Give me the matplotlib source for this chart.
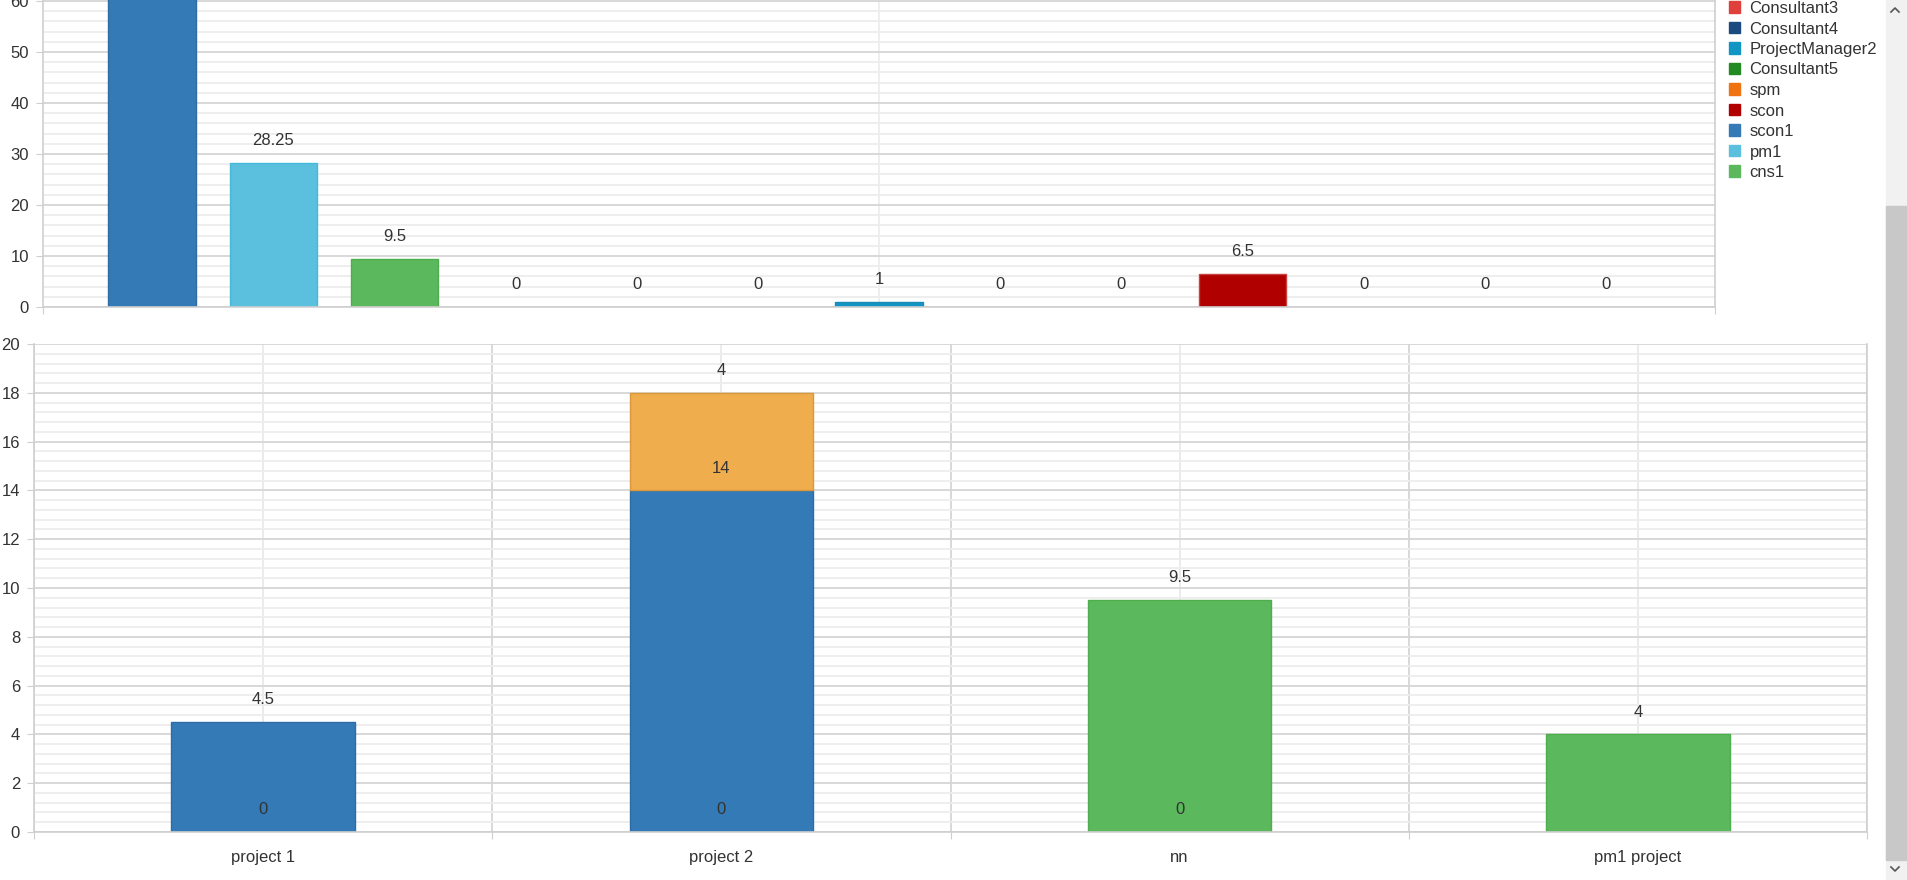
import numpy as np
import matplotlib.pyplot as plt
from matplotlib.patches import Patch, Rectangle
from matplotlib.lines import Line2D

# top chart: hours per person (category names are scrolled out of view)
top_values = [66, 28.25, 9.5, 0, 0, 0, 1, 0, 0, 6.5, 0, 0, 0]
top_colors = ['#337ab7', '#5bc0de', '#5cb85c', '#e0403c', '#1a4a80', '#238a23',
              '#1196c4', '#f07312', '#e0403c', '#b00000', '#1a4a80', '#238a23', '#f07312']
top_edges = ['#2e6da4', '#46b8da', '#4cae4c', '#e0403c', '#1a4a80', '#238a23',
             '#1b8ab4', '#f07312', '#e0403c', '#c84040', '#1a4a80', '#238a23', '#f07312']

# legend entries visible in the screenshot
legend_names = ['Consultant3', 'Consultant4', 'ProjectManager2', 'Consultant5',
                'spm', 'scon', 'scon1', 'pm1', 'cns1']
legend_colors = ['#e0403c', '#1a4a80', '#1196c4', '#238a23',
                 '#f07312', '#b00000', '#337ab7', '#5bc0de', '#5cb85c']

# bottom chart: hours per project, stacked
projects = ['project 1', 'project 2', 'nn', 'pm1 project']
zero_hours = [0, 0, 0, None]
scon1_hours = [4.5, 14, None, None]
spm_hours = [None, 4, None, None]
cns1_hours = [None, None, 9.5, 4]
bottom_series = [
    (zero_hours, '#337ab7', '#2e6da4'),
    (scon1_hours, '#337ab7', '#2e6da4'),
    (spm_hours, '#f0ad4e', '#d9983a'),
    (cns1_hours, '#5cb85c', '#4cae4c'),
]

plt.rcParams['font.family'] = ['Liberation Sans', 'DejaVu Sans']
plt.rcParams['font.size'] = 12
TXT = '#333333'
GRID = '#d6d6d6'
MINOR = '#ededed'

W, H = 1907, 880
fig = plt.figure(figsize=(W / 100, H / 100), dpi=100)


def add_px_axes(left, right, zero_y, top_y):
    return fig.add_axes([left / W, 1 - zero_y / H, (right - left) / W, (zero_y - top_y) / H])


def style(ax):
    ax.set_axisbelow(True)
    ax.spines['top'].set_visible(False)
    for s in ['left', 'right', 'bottom']:
        ax.spines[s].set_color('#cfcfcf')
        ax.spines[s].set_linewidth(1.2)
    ax.tick_params(axis='y', which='major', length=5, color='#cfcfcf', labelcolor=TXT, pad=5)
    ax.tick_params(axis='y', which='minor', length=0)
    ax.yaxis.grid(True, which='major', color=GRID, lw=1.3)
    ax.yaxis.grid(True, which='minor', color=MINOR, lw=1.3)


def label(ax, x, y, v):
    ax.annotate(f'{v:g}', (x, y), xytext=(0, 16), textcoords='offset points',
                ha='center', va='center', color=TXT, annotation_clip=False, zorder=5)


# ---- top chart
ax1 = add_px_axes(43, 1715, 307, -50)
style(ax1)
n = len(top_values)
xt = np.arange(n)
ax1.set_xlim(-0.9, n - 0.1)
ax1.set_ylim(0, 70)
ax1.set_yticks(np.arange(0, 71, 10))
ax1.set_yticks(np.arange(0, 71, 2), minor=True)
ax1.set_xticks([-0.9, n - 0.1], ['', ''])
ax1.tick_params(axis='x', length=5, color='#cfcfcf')
ax1.axvline((n - 1) / 2, color='#ebebeb', lw=1.2, zorder=0)
ax1.bar(xt, top_values, width=0.72, color=top_colors, edgecolor=top_edges,
        linewidth=[1 if v else 0 for v in top_values], zorder=2)
for x, v in zip(xt, top_values):
    label(ax1, x, v, v)

# ---- bottom chart
ax2 = add_px_axes(34, 1867, 832, 344)
style(ax2)
xb = np.arange(len(projects))
ax2.set_xlim(-0.5, len(projects) - 0.5)
ax2.set_ylim(0, 20)
ax2.set_yticks(np.arange(0, 21, 2))
ax2.set_yticks(np.arange(0, 20.01, 0.4), minor=True)
ax2.set_xticks(np.arange(-0.5, len(projects)), [''] * (len(projects) + 1))
ax2.set_xticks(xb, projects, minor=True)
ax2.tick_params(axis='x', which='major', length=5, color='#cfcfcf')
ax2.tick_params(axis='x', which='minor', length=0, pad=13, labelcolor=TXT)
ax2.xaxis.grid(True, which='major', color=GRID, lw=1.3)
ax2.xaxis.grid(True, which='minor', color='#e8e8e8', lw=1.2)

base = np.zeros(len(projects))
for values, color, edge in bottom_series:
    for i, v in enumerate(values):
        if v is None:
            continue
        if v > 0:
            ax2.bar(i, v, bottom=base[i], width=0.4, color=color, edgecolor=edge, lw=1, zorder=2)
        label(ax2, i, base[i] + v, v)
        base[i] += v

# ---- legend
handles = [Patch(facecolor=c, edgecolor=c) for c in legend_colors]
fig.legend(handles, legend_names, loc='upper left', bbox_to_anchor=(1729 / W, 1 - 1 / H),
           frameon=False, borderpad=0, borderaxespad=0, labelspacing=0.33,
           handlelength=0.68, handleheight=0.68, handletextpad=0.55, labelcolor=TXT)

# ---- browser scrollbar
fig.add_artist(Rectangle((1886 / W, 0), 21 / W, 1, transform=fig.transFigure,
                         color='#f1f1f1', zorder=0))
fig.add_artist(Rectangle((1886 / W, 20 / H), 20 / W, 654 / H, transform=fig.transFigure,
                         color='#c8c8c8', zorder=1))
for ys in [(12, 8, 12), (867, 871, 867)]:
    fig.add_artist(Line2D([1891 / W, 1895 / W, 1899 / W], [1 - y / H for y in ys],
                          transform=fig.transFigure, color='#555555', lw=1.2))

fig.savefig('out.png', dpi=100)
